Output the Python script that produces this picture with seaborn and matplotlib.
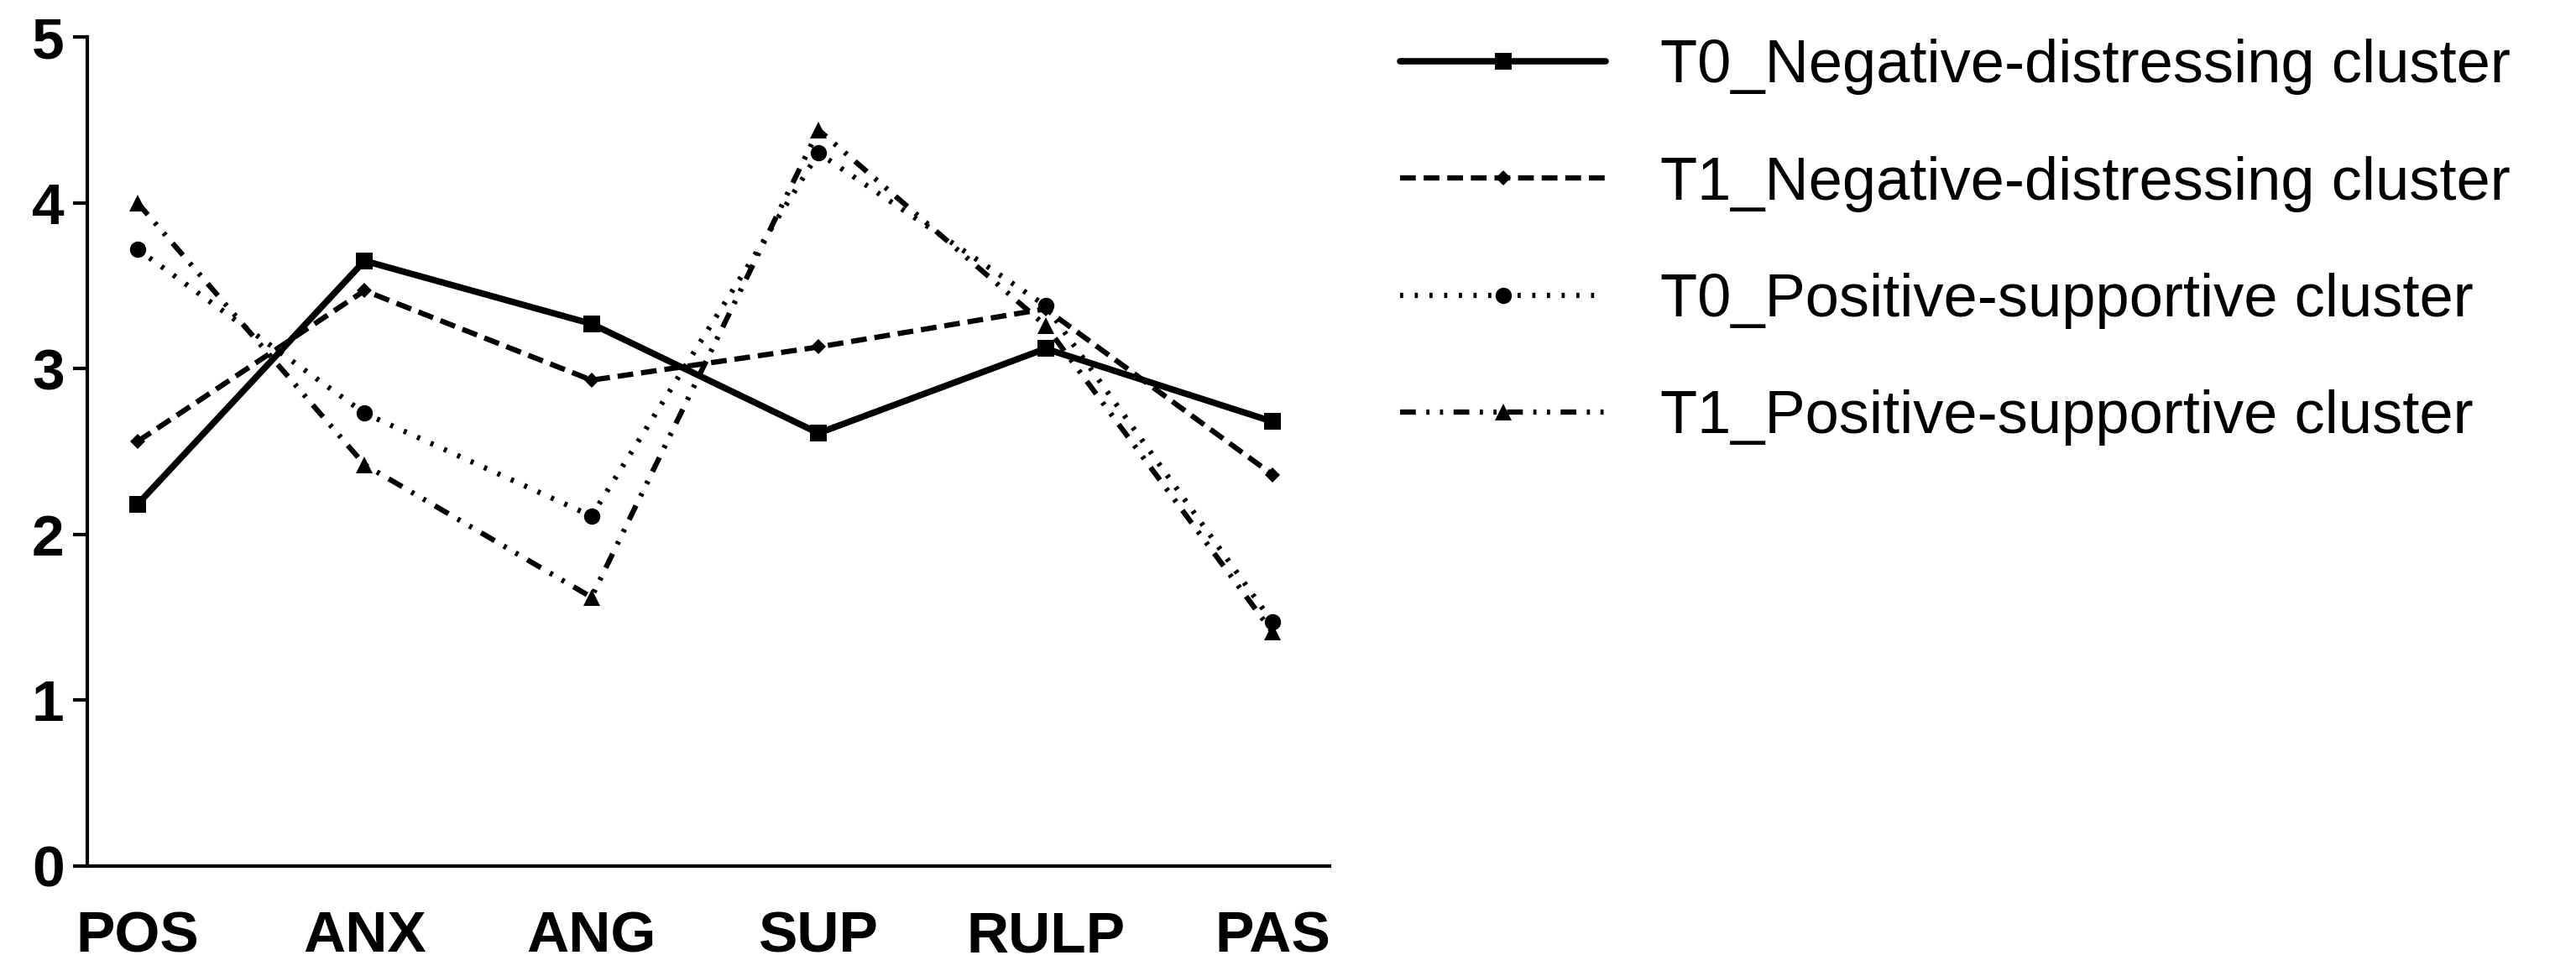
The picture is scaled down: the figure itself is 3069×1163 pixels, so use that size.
import matplotlib
matplotlib.use('Agg')
import matplotlib.pyplot as plt
import seaborn as sns
import pandas as pd

sns.set_style('ticks')
plt.rcParams['font.family'] = ['Liberation Sans', 'DejaVu Sans']
plt.rcParams['text.color'] = 'black'
plt.rcParams['xtick.color'] = 'black'
plt.rcParams['ytick.color'] = 'black'

categories = ['POS', 'ANX', 'ANG', 'SUP', 'RULP', 'PAS']
t0_negative = [2.18, 3.65, 3.27, 2.61, 3.12, 2.68]
t1_negative = [2.56, 3.47, 2.93, 3.13, 3.36, 2.36]
t0_positive = [3.72, 2.73, 2.11, 4.30, 3.38, 1.47]
t1_positive = [4.00, 2.42, 1.62, 4.44, 3.26, 1.41]

series = [
    ('T0_Negative-distressing cluster', t0_negative, '-', 's', 14),
    ('T1_Negative-distressing cluster', t1_negative, (0, (3, 1.5)), 'D', 9),
    ('T0_Positive-supportive cluster', t0_positive, (0, (0.6, 2.2)), 'o', 14),
    ('T1_Positive-supportive cluster', t1_positive, (0, (3, 2, 0.6, 2, 0.6, 2)), '^', 14),
]

fig = plt.figure(figsize=(30.69, 11.63), dpi=100)
ax = fig.add_axes([0.034, 0.113, 0.482, 0.849])

for name, vals, ls, mk, ms in series:
    df = pd.DataFrame({'x': range(len(categories)), 'y': vals})
    sns.lineplot(data=df, x='x', y='y', ax=ax, color='black', linestyle=ls,
                 marker=mk, markersize=ms, linewidth=5.5 if ls == '-' else 4.5,
                 markeredgewidth=0, label=name, sort=False)

ax.set_xlim(-0.22, 5.25)
ax.set_ylim(0, 5)
ax.set_xticks(range(len(categories)))
ax.set_xticklabels(categories)
ax.set_yticks(range(6))
ax.set_xlabel('')
ax.set_ylabel('')
for s in ['top', 'right']:
    ax.spines[s].set_visible(False)
for s in ['left', 'bottom']:
    ax.spines[s].set_linewidth(3)
    ax.spines[s].set_color('black')
ax.tick_params(axis='x', length=0, pad=38, labelsize=50)
ax.tick_params(axis='y', length=12, width=3, pad=8, labelsize=50)
for lab in ax.get_xticklabels() + ax.get_yticklabels():
    lab.set_fontweight('bold')

handles, labels = ax.get_legend_handles_labels()
ax.get_legend().remove()
fig.legend(handles, labels, loc='upper left', bbox_to_anchor=(0.534, 0.985),
           frameon=False, fontsize=52, handlelength=3.4, handletextpad=0.9,
           labelspacing=1.0, borderaxespad=0)

fig.savefig('out.png', dpi=100)
